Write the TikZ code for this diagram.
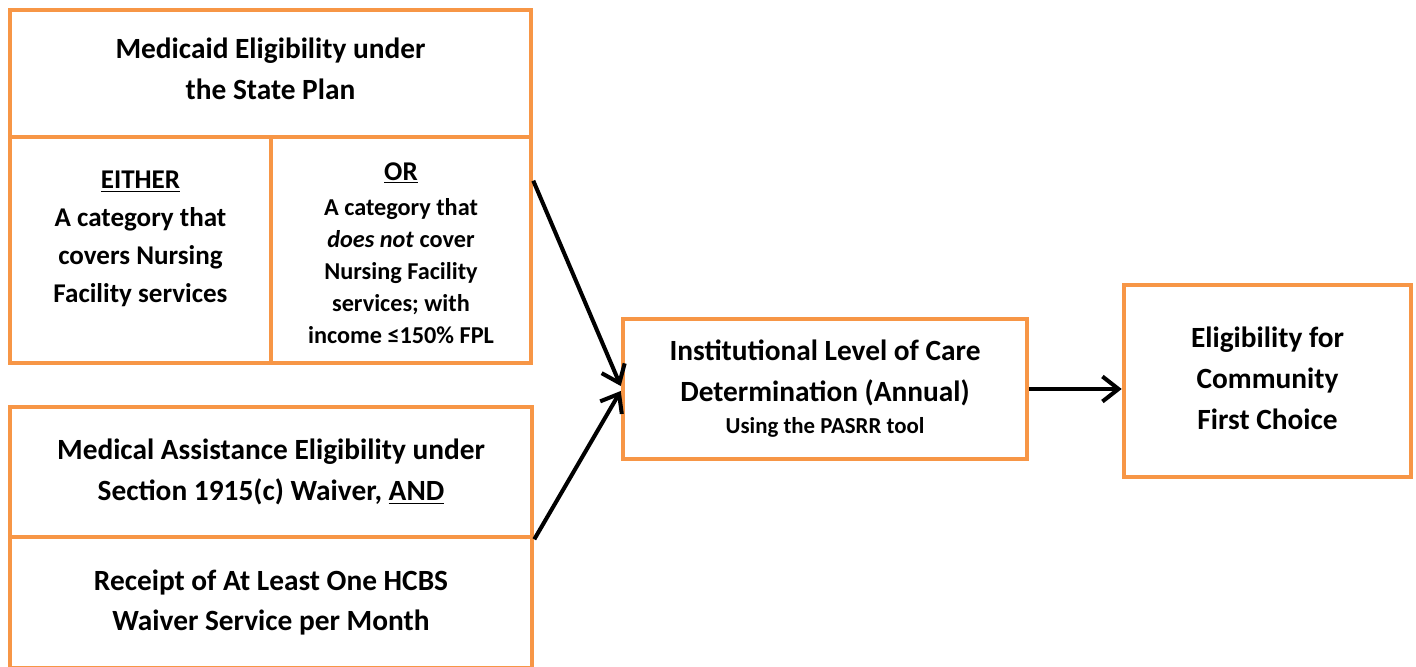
\documentclass[tikz,border=0pt]{standalone}
\usepackage{fontspec}
\setmainfont{Carlito}
\usetikzlibrary{arrows.meta}

\definecolor{boxorange}{HTML}{F79646}

\begin{document}
\begin{tikzpicture}[
    >={Straight Barb[length=0.32cm,width=0.5cm]},
    box/.style={draw=boxorange, line width=2.6pt, fill=white, rectangle, inner sep=0pt, align=center, font=\bfseries\fontsize{16.7}{23.3}\selectfont},
    txt/.style={align=center, font=\bfseries\fontsize{15.4}{21.5}\selectfont},
    smalltxt/.style={txt, font=\bfseries\fontsize{13.8}{18.2}\selectfont},
    link/.style={->, line width=2.3pt, black}
]
    \useasboundingbox (0,0) rectangle (28.32,-13.34);

    % State plan block
    \node[box, minimum width=10.42cm, minimum height=2.54cm] (plan) at (5.41,-1.47) {Medicaid Eligibility under\\the State Plan\\[-17.5pt]};
    \node[box, minimum width=5.22cm, minimum height=4.52cm] (either) at (2.81,-5.0) {};
    \node[txt] (eithertxt) at (2.81,-4.78) {\underline{EITHER}\\A category that\\covers Nursing\\Facility services};
    \node[box, minimum width=5.2cm, minimum height=4.52cm] (orcell) at (8.02,-5.0) {};
    \node[smalltxt] (ortxt) at (8.02,-5.06) {{\fontsize{15.4}{18}\selectfont\underline{OR}}\\[2pt]A category that\\\textit{does not} cover\\Nursing Facility\\services; with\\income ≤150\% FPL};

    % Waiver block
    \node[box, minimum width=10.44cm, minimum height=2.6cm] (waiver) at (5.42,-9.44) {Medical Assistance Eligibility under\\Section 1915(c) Waiver, \underline{AND}};
    \node[box, minimum width=10.44cm, minimum height=2.62cm] (receipt) at (5.42,-12.05) {Receipt of At Least One HCBS\\Waiver Service per Month};

    % Level of care and result
    \node[box, minimum width=8.08cm, minimum height=2.8cm] (loc) at (16.5,-7.78) {Institutional Level of Care\\Determination (Annual)\\[-5pt]{\fontsize{13}{15}\selectfont Using the PASRR tool}};
    \node[box, minimum width=5.74cm, minimum height=3.84cm] (cfc) at (25.35,-7.62) {Eligibility for\\Community\\First Choice\\[-20pt]};

    % Connections
    \coordinate (planout) at ([yshift=-0.92cm]orcell.north east);
    \draw[link] (planout) -- ([yshift=0.06cm]loc.west);
    \draw[link] (waiver.south east) -- ([yshift=-0.04cm]loc.west);
    \draw[link] (loc.east) -- (loc.east -| cfc.west);

\end{tikzpicture}
\end{document}
